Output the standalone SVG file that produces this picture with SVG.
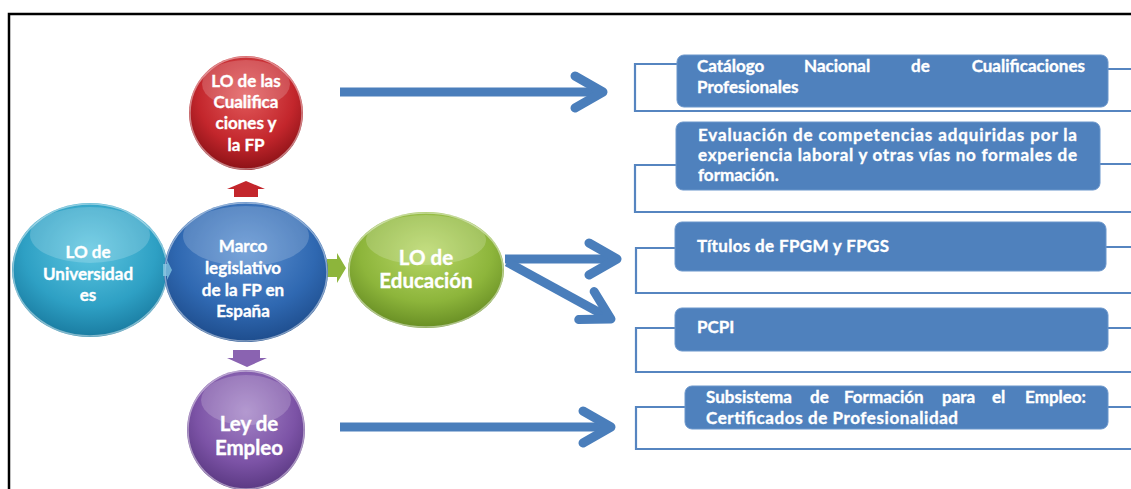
<svg xmlns="http://www.w3.org/2000/svg" width="1131" height="489" viewBox="0 0 1131 489">
<style>
.t{font-family:Lato,"Liberation Sans",sans-serif;font-weight:bold;fill:#fff;stroke:#fff;stroke-width:.35}
.c{font-size:17px;text-anchor:middle}
.cb{font-size:20.5px;text-anchor:middle}
.b{font-size:17px}
.e{text-anchor:end}
.box{fill:#4f81bd;stroke:#6b96cb;stroke-width:1}
.br{fill:none;stroke:#5685c0;stroke-width:2.2}
.rim{fill:none;stroke:#fff;stroke-opacity:.45;stroke-width:1.5}
.hl{fill:#fff;fill-opacity:.18}
.big{fill:none;stroke:#4a7ebb;stroke-width:9;stroke-linecap:butt}
</style>
<defs>
<radialGradient id="gR" cx="50%" cy="35%" r="65%"><stop offset="0" stop-color="#e25a5b"/><stop offset=".65" stop-color="#c3262c"/><stop offset="1" stop-color="#8c1217"/></radialGradient>
<radialGradient id="gC" cx="50%" cy="35%" r="65%"><stop offset="0" stop-color="#5cc5e0"/><stop offset=".65" stop-color="#2ea0c4"/><stop offset="1" stop-color="#1a7ca1"/></radialGradient>
<radialGradient id="gB" cx="50%" cy="35%" r="65%"><stop offset="0" stop-color="#5b90d1"/><stop offset=".65" stop-color="#2f68b1"/><stop offset="1" stop-color="#1e4d8d"/></radialGradient>
<radialGradient id="gG" cx="50%" cy="35%" r="65%"><stop offset="0" stop-color="#b7d766"/><stop offset=".65" stop-color="#8db53b"/><stop offset="1" stop-color="#688e24"/></radialGradient>
<radialGradient id="gP" cx="50%" cy="35%" r="65%"><stop offset="0" stop-color="#a383c6"/><stop offset=".65" stop-color="#7c53a6"/><stop offset="1" stop-color="#5b3983"/></radialGradient>
<marker id="open" markerUnits="userSpaceOnUse" viewBox="-8 -24 56 48" markerWidth="56" markerHeight="48" refX="30" refY="0" orient="auto">
<path d="M2,-16 L30,0 L2,16" fill="none" stroke="#4a7ebb" stroke-width="9" stroke-linecap="round" stroke-linejoin="round"/>
</marker>
</defs>
<rect width="1131" height="489" fill="#fff"/>
<path d="M9,489 V14 H1131" fill="none" stroke="#000" stroke-width="2.5"/>

<g id="connectors">
<path class="big" d="M340,92 H603" marker-end="url(#open)"/>
<path class="big" d="M505,259 H617" marker-end="url(#open)"/>
<path class="big" d="M507,262 L611,319" marker-end="url(#open)"/>
<path class="big" d="M340,427 H611" marker-end="url(#open)"/>
<polygon points="246,181 265,189 258,189 258,197 234,197 234,189 227,189" fill="#c3262c"/>
<polygon points="233,350 260,350 260,358 267,358 247,367 227,358 233,358" fill="#8a63b1"/>
<polygon points="327,259 337,259 337,253 346,268 337,283 337,277 327,277" fill="#8db53b"/>
</g>

<g id="n-universidades">
<ellipse cx="90" cy="270" rx="78" ry="67" fill="url(#gC)"/>
<ellipse class="hl" cx="90" cy="235" rx="60" ry="28"/>
<ellipse class="rim" cx="90" cy="270" rx="77" ry="66"/>
<text class="t c" x="88" y="258">LO de</text>
<text class="t c" x="88" y="280">Universidad</text>
<text class="t c" x="88" y="301">es</text>
</g>

<g id="n-marco">
<ellipse cx="246" cy="272" rx="82" ry="70" fill="url(#gB)"/>
<ellipse class="hl" cx="246" cy="236" rx="63" ry="30"/>
<ellipse class="rim" cx="246" cy="272" rx="81" ry="69"/>
<text class="t c" x="243" y="252">Marco</text>
<text class="t c" x="243" y="274">legislativo</text>
<text class="t c" x="243" y="296">de la FP en</text>
<text class="t c" x="243" y="317">España</text>
</g>
<polygon points="163,264 167,264 167,260 172,270 167,280 167,276 163,276" fill="#8fd3ea" fill-opacity=".7"/>

<g id="n-cualificaciones">
<circle cx="246" cy="113" r="57" fill="url(#gR)"/>
<ellipse class="hl" cx="246" cy="84" rx="44" ry="24"/>
<circle class="rim" cx="246" cy="113" r="56"/>
<text class="t c" x="246" y="87">LO de las</text>
<text class="t c" x="246" y="108">Cualifica</text>
<text class="t c" x="246" y="129">ciones y</text>
<text class="t c" x="246" y="151">la FP</text>
</g>

<g id="n-educacion">
<ellipse cx="426" cy="270" rx="78" ry="58" fill="url(#gG)"/>
<ellipse class="hl" cx="426" cy="240" rx="60" ry="25"/>
<ellipse class="rim" cx="426" cy="270" rx="77" ry="57"/>
<text class="t cb" x="426" y="265">LO de</text>
<text class="t cb" x="426" y="288">Educación</text>
</g>

<g id="n-empleo">
<ellipse cx="246" cy="430" rx="59" ry="60" fill="url(#gP)"/>
<ellipse class="hl" cx="246" cy="400" rx="45" ry="25"/>
<ellipse class="rim" cx="246" cy="430" rx="58" ry="59"/>
<text class="t cb" x="249" y="431">Ley de</text>
<text class="t cb" x="249" y="455">Empleo</text>
</g>

<g id="n-catalogo">
<path class="br" d="M677,64 H635 V111 H1131 M1108,69 H1131"/>
<rect class="box" x="677" y="55" width="431" height="52" rx="7"/>
<text class="t b" y="72"><tspan x="697">Catálogo</tspan><tspan x="804">Nacional</tspan><tspan x="911">de</tspan><tspan x="1085" class="e">Cualificaciones</tspan></text>
<text class="t b" x="697" y="93">Profesionales</text>
</g>

<g id="n-evaluacion">
<path class="br" d="M676,165 H635 V212 H1131 M1100,164 H1131"/>
<rect class="box" x="676" y="122" width="424" height="68" rx="7"/>
<text class="t b" x="698" y="141" textLength="379" lengthAdjust="spacing">Evaluación de competencias adquiridas por la</text>
<text class="t b" x="698" y="161" textLength="379" lengthAdjust="spacing">experiencia laboral y otras vías no formales de</text>
<text class="t b" x="698" y="181">formación.</text>
</g>

<g id="n-titulos">
<path class="br" d="M675,248 H636 V293 H1131 M1106,247 H1131"/>
<rect class="box" x="675" y="222" width="431" height="49" rx="7"/>
<text class="t b" x="697" y="252" textLength="192" lengthAdjust="spacing">Títulos de FPGM y FPGS</text>
</g>

<g id="n-pcpi">
<path class="br" d="M675,328 H636 V372 H1131 M1108,328 H1131"/>
<rect class="box" x="675" y="308" width="433" height="43" rx="7"/>
<text class="t b" x="697" y="333">PCPI</text>
</g>

<g id="n-subsistema">
<path class="br" d="M685,407 H636 V449 H1131 M1108,407 H1131"/>
<rect class="box" x="685" y="386" width="423" height="43" rx="7"/>
<text class="t b" y="403"><tspan x="706">Subsistema</tspan><tspan x="810">de</tspan><tspan x="844">Formación</tspan><tspan x="942">para</tspan><tspan x="992">el</tspan><tspan x="1086" class="e">Empleo:</tspan></text>
<text class="t b" x="706" y="424" textLength="252" lengthAdjust="spacing">Certificados de Profesionalidad</text>
</g>
</svg>
